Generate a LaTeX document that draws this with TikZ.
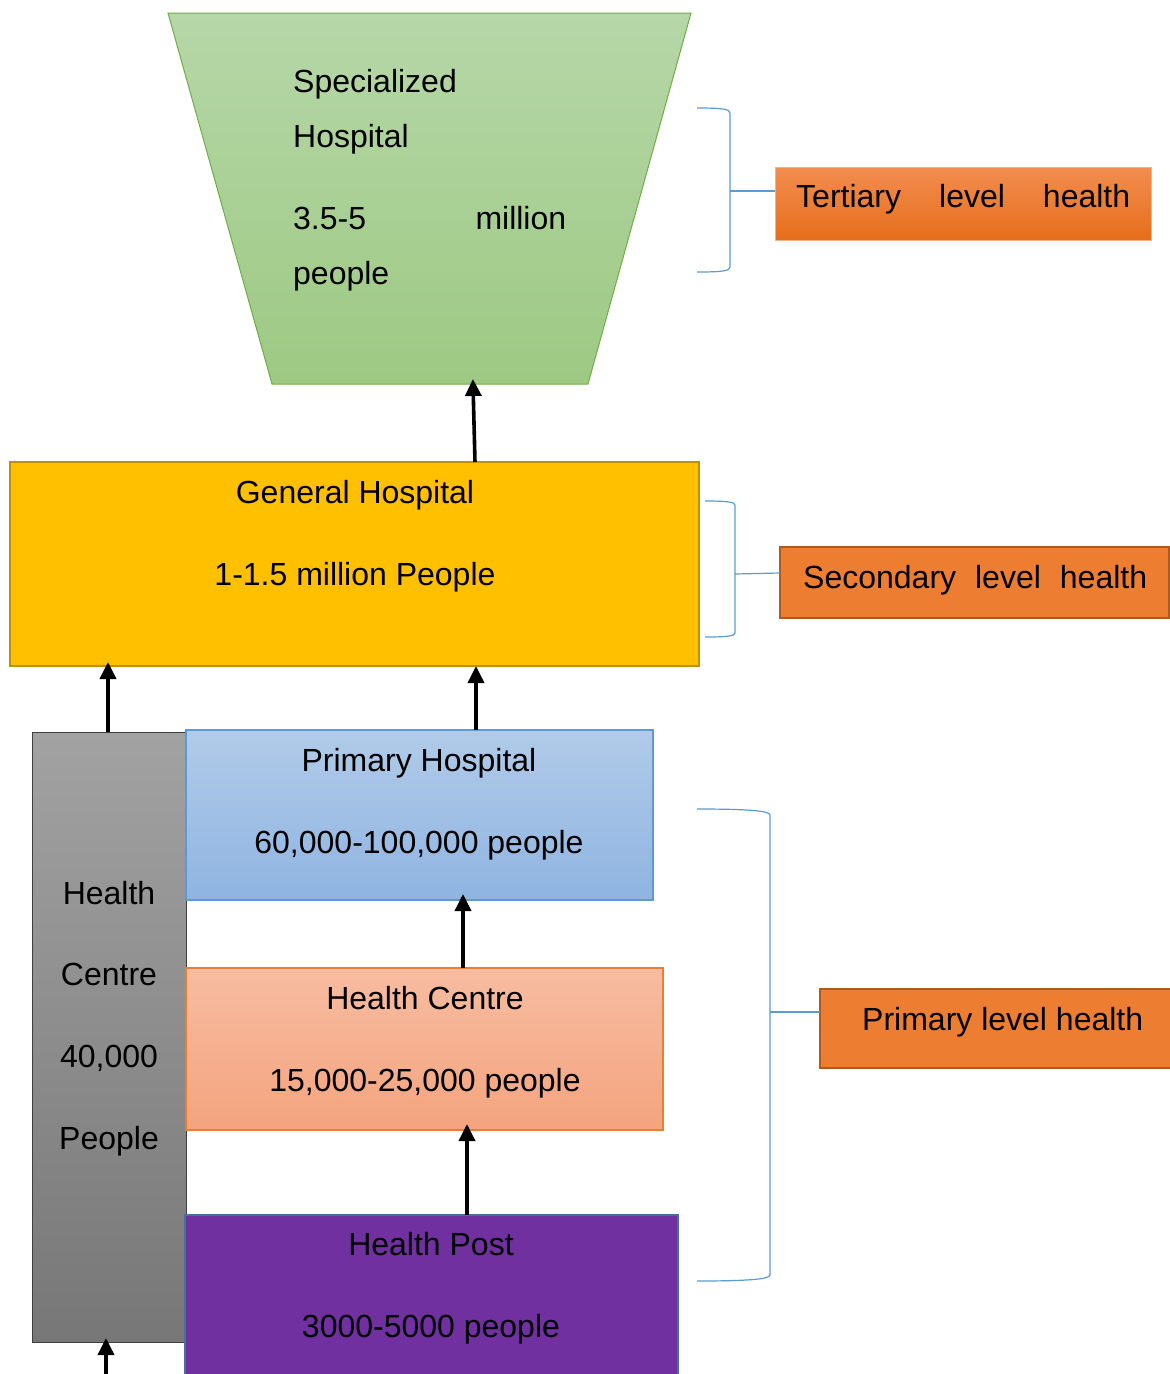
\documentclass[tikz,border=0pt]{standalone}
\usepackage{fontspec}
\setmainfont{Liberation Sans}
\usetikzlibrary{arrows.meta}
\definecolor{trapTop}{HTML}{B6D7A8}
\definecolor{trapBot}{HTML}{9DC983}
\definecolor{trapLine}{HTML}{70AD47}
\definecolor{ghFill}{HTML}{FFC000}
\definecolor{ghLine}{HTML}{BF9000}
\definecolor{lvlFill}{HTML}{ED7D31}
\definecolor{lvlLine}{HTML}{AE5A21}
\definecolor{tertTop}{HTML}{F28D4F}
\definecolor{tertBot}{HTML}{E66E1B}
\definecolor{tertLine}{HTML}{F4B183}
\definecolor{brLine}{HTML}{5B9BD5}
\definecolor{grayTop}{HTML}{A2A2A2}
\definecolor{grayBot}{HTML}{777777}
\definecolor{grayLine}{HTML}{3F3F3F}
\definecolor{phTop}{HTML}{B1CBE9}
\definecolor{phBot}{HTML}{8FB4E1}
\definecolor{phLine}{HTML}{5B9BD5}
\definecolor{hcTop}{HTML}{F7BCA1}
\definecolor{hcBot}{HTML}{F4A47E}
\definecolor{hcLine}{HTML}{ED7D31}
\definecolor{hpFill}{HTML}{7030A0}
\definecolor{hpLine}{HTML}{41719C}
\tikzset{
  box/.style={rectangle, anchor=north west, inner sep=0pt, outer sep=0pt},
  txt/.style={anchor=base, inner sep=0pt, font=\fontsize{32}{38}\selectfont},
  txtl/.style={anchor=base west, inner sep=0pt, font=\fontsize{32}{38}\selectfont},
  upar/.style={line width=3.6pt, -{Triangle[width=16pt,length=17pt]}},
  brace/.style={draw=brLine, line width=1.2pt},
}
\begin{document}
\begin{tikzpicture}[x=1pt,y=-1pt]
\useasboundingbox (0,0) rectangle (1170,1374);
\clip (0,0) rectangle (1170,1374);
\fill[white] (0,0) rectangle (1170,1374);

% tertiary level: specialized hospital (funnel shape)
\path[top color=trapTop, bottom color=trapBot, draw=trapLine, line width=1pt]
  (168,13) -- (691,13) -- (588,384) -- (272,384) -- cycle;
\coordinate (specbot) at (473,384);
\node[txtl] (sp1) at (293,92) {Specialized};
\node[txtl] (sp2) at (293,147) {Hospital};
\node[txtl, text width=273pt] (sp3) at (293,229) {3.5-5\hfill million};
\node[txtl] (sp4) at (293,284) {people};

% secondary level: general hospital
\node[box, fill=ghFill, draw=ghLine, line width=2.5pt, minimum width=689pt, minimum height=204pt] (gh) at (10,462) {};
\node[txt] (gh1) at (355,503) {General Hospital};
\node[txt] (gh2) at (355,585) {1-1.5 million People};

% primary level facilities
\node[box, top color=grayTop, bottom color=grayBot, draw=grayLine, line width=1pt, minimum width=154pt, minimum height=610pt] (hcw) at (32,732) {};
\node[txt] (hw1) at (109,904) {Health};
\node[txt] (hw2) at (109,985) {Centre};
\node[txt] (hw3) at (109,1067) {40,000};
\node[txt] (hw4) at (109,1149) {People};

\node[box, top color=phTop, bottom color=phBot, draw=phLine, line width=1.5pt, minimum width=467pt, minimum height=170pt] (ph) at (186,730) {};
\node[txt] (ph1) at (419,771) {Primary Hospital};
\node[txt] (ph2) at (419,853) {60,000-100,000 people};

\node[box, top color=hcTop, bottom color=hcBot, draw=hcLine, line width=1.5pt, minimum width=477pt, minimum height=162pt] (hc) at (186,968) {};
\node[txt] (hc1) at (425,1009) {Health Centre};
\node[txt] (hc2) at (425,1091) {15,000-25,000 people};

\node[box, fill=hpFill, draw=hpLine, line width=2.5pt, minimum width=493pt, minimum height=200pt] (hp) at (185,1215) {};
\node[txt] (hp1) at (431,1255) {Health Post};
\node[txt] (hp2) at (431,1337) {3000-5000 people};

% referral arrows
\coordinate (xa) at (475,0);
\coordinate (xb) at (108,0);
\coordinate (xc) at (476,0);
\coordinate (xd) at (463,0);
\coordinate (xe) at (467,0);
\coordinate (xf) at (106,0);
\coordinate (below) at (106,1380);
\draw[upar, shorten >=-5pt] (gh.north -| xa) -- (specbot);
\draw[upar, shorten >=-4pt] (hcw.north -| xb) -- (gh.south -| xb);
\draw[upar] (ph.north -| xc) -- (gh.south -| xc);
\draw[upar, shorten >=-6pt] (hc.north -| xd) -- (ph.south -| xd);
\draw[upar, shorten >=-6pt] (hp.north -| xe) -- (hc.south -| xe);
\draw[upar, shorten >=-4pt] (below) -- (hcw.south -| xf);

% level labels
\node[box, top color=tertTop, bottom color=tertBot, draw=tertLine, line width=1pt, minimum width=376pt, minimum height=73pt] (tert) at (775,167) {};
\node[txtl, text width=334pt] (tertt) at (796,207) {Tertiary\hfill level\hfill health};

\node[box, fill=lvlFill, draw=lvlLine, line width=2pt, minimum width=389pt, minimum height=71pt] (sec) at (780,547) {};
\node[txtl, text width=344pt] (sect) at (803,588) {Secondary\hfill level\hfill health};

\node[box, fill=lvlFill, draw=lvlLine, line width=2pt, minimum width=400pt, minimum height=79pt] (prim) at (820,989) {};
\node[txtl] (primt) at (862,1030) {Primary level health};

% grouping brackets
\draw[brace] (697,108) .. controls (722,108) and (730,109) .. (730,113) -- (730,267) .. controls (730,271) and (722,272) .. (697,272);
\coordinate (tbr) at (730,191);
\draw[brace] (tbr) -- (tert.west |- tbr);

\draw[brace] (705,501) .. controls (727,501) and (735,502) .. (735,505) -- (735,633) .. controls (735,636) and (727,637) .. (705,637);
\coordinate (sbr) at (735,574);
\draw[brace] (sbr) -- (sec.west |- 0,573);

\draw[brace] (697,809) .. controls (750,809) and (770,811) .. (770,815) -- (770,1275) .. controls (770,1279) and (750,1281) .. (697,1281);
\coordinate (pbr) at (770,1012);
\draw[brace] (pbr) -- (prim.west |- pbr);
\end{tikzpicture}
\end{document}
